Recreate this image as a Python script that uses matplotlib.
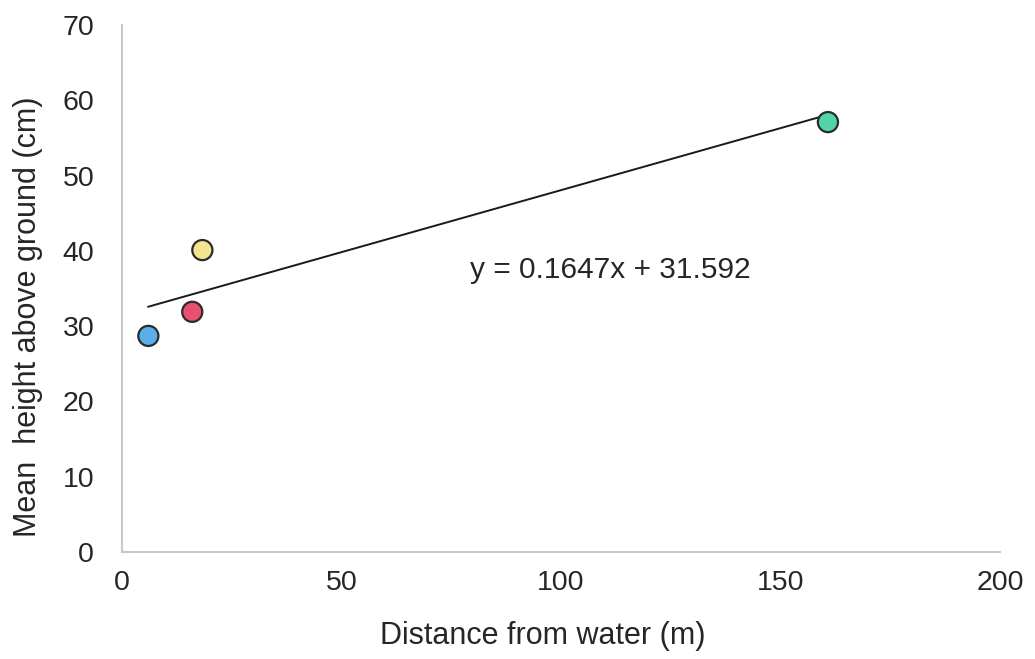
import matplotlib
matplotlib.use("Agg")
import matplotlib.pyplot as plt
import numpy as np

plt.rcParams['font.family'] = ['Liberation Sans', 'DejaVu Sans']

distance = [6, 16, 18.3, 160.8]
height = [28.7, 31.9, 40.1, 57.1]
colors = ['#5aaeea', '#e9506f', '#f6e38e', '#52d6a9']
slope, intercept = 0.1647, 31.592
equation = "y = 0.1647x + 31.592"

fig = plt.figure(figsize=(10.35, 6.59), dpi=100)
ax = fig.add_axes([0.1179, 0.1624, 0.8483, 0.7997])

xl = np.array([min(distance), max(distance)])
ax.plot(xl, slope * xl + intercept, color='#1a1a1a', lw=1.4, zorder=2)
ax.scatter(distance, height, s=210, c=colors, edgecolors='#2b2b2b', linewidths=1.6, zorder=3)

ax.text(79.3, 37.4, equation, fontsize=21.5, color='#262626', va='center', ha='left')

ax.set_xlim(0, 200)
ax.set_ylim(0, 70)
ax.set_xticks([0, 50, 100, 150, 200])
ax.set_yticks(range(0, 71, 10))
ax.tick_params(axis='both', length=0, labelsize=20.5, colors='#262626')
ax.tick_params(axis='x', pad=13)
ax.tick_params(axis='y', pad=20)
for s in ['top', 'right']:
    ax.spines[s].set_visible(False)
for s in ['left', 'bottom']:
    ax.spines[s].set_color('#c8c8c8')
    ax.spines[s].set_linewidth(1.5)

ax.set_xlabel('Distance from water (m)', fontsize=22, color='#262626', va='center')
ax.set_ylabel('Mean  height above ground (cm)', fontsize=22, color='#262626', va='center')
ax.xaxis.set_label_coords(0.4795, -0.159)
ax.yaxis.set_label_coords(-0.107, 0.446)

fig.savefig('out.png', dpi=100)
